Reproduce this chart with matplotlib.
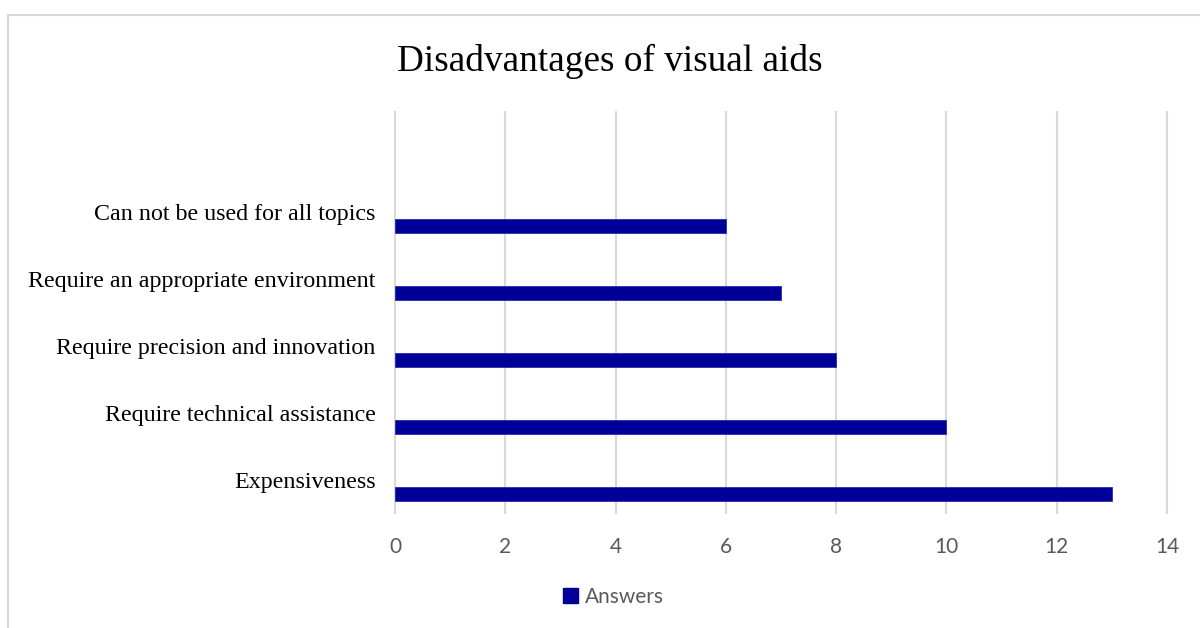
import matplotlib
matplotlib.use("Agg")
import matplotlib.pyplot as plt
from matplotlib.patches import Rectangle, Patch

categories = [
    "Expensiveness",
    "Require technical assistance",
    "Require precision and innovation",
    "Require an appropriate environment",
    "Can not be used for all topics",
]
answers = [13, 10, 8, 7, 6]
x_ticks = [0, 2, 4, 6, 8, 10, 12, 14]

BAR_COLOR = "#000099"
GRID_COLOR = "#d9d9d9"
TEXT_GRAY = "#595959"
SERIF = ["Liberation Serif", "DejaVu Serif"]
SANS = ["Lato", "DejaVu Sans"]


def main():
    fig = plt.figure(figsize=(12, 6.28), dpi=100)
    fig.patch.set_facecolor("white")

    # chart border like the Excel chart area
    fig.patches.append(Rectangle((8 / 1200, -0.1), 1.2, 1 - 15 / 628 + 0.1,
                                 transform=fig.transFigure, fill=False,
                                 edgecolor=GRID_COLOR, linewidth=1.5))

    ax = fig.add_axes([395 / 1200, 1 - 513 / 628, 772 / 1200, 401 / 628])

    pos = list(range(len(categories)))
    # bars sit below the slot centre (empty second series in the original)
    ax.barh([p - 0.21 for p in pos], answers, height=0.21,
            color=BAR_COLOR, edgecolor="#2a2ab0", linewidth=0.6, zorder=3)

    ax.set_xlim(0, 14)
    ax.set_ylim(-0.5, len(categories) + 0.5)
    ax.set_xticks(x_ticks)
    ax.set_xticklabels([str(t) for t in x_ticks], family=SANS,
                       fontsize=15, color=TEXT_GRAY)
    ax.set_yticks(pos)
    ax.set_yticklabels(categories, family=SERIF, fontsize=17.3, color="black")
    ax.tick_params(axis="x", length=0, pad=17)
    ax.tick_params(axis="y", length=0, pad=14)

    ax.grid(axis="x", color=GRID_COLOR, linewidth=1.5, zorder=0)
    for line in ax.get_xgridlines():
        line.set_clip_on(False)
    for side in ["top", "right", "bottom", "left"]:
        ax.spines[side].set_visible(False)

    fig.text(0.508, 1 - 61 / 628, "Disadvantages of visual aids",
             ha="center", va="center", family=SERIF, fontsize=26.8)

    handle = Patch(facecolor=BAR_COLOR, edgecolor=BAR_COLOR)
    fig.legend([handle], ["Answers"], loc="center",
               bbox_to_anchor=(0.511, 1 - 597 / 628), frameon=False,
               prop={"family": SANS, "size": 15}, labelcolor=TEXT_GRAY,
               handlelength=0.75, handleheight=0.75, handletextpad=0.3)

    fig.savefig("out.png", dpi=100)
    plt.close(fig)


if __name__ == "__main__":
    main()
